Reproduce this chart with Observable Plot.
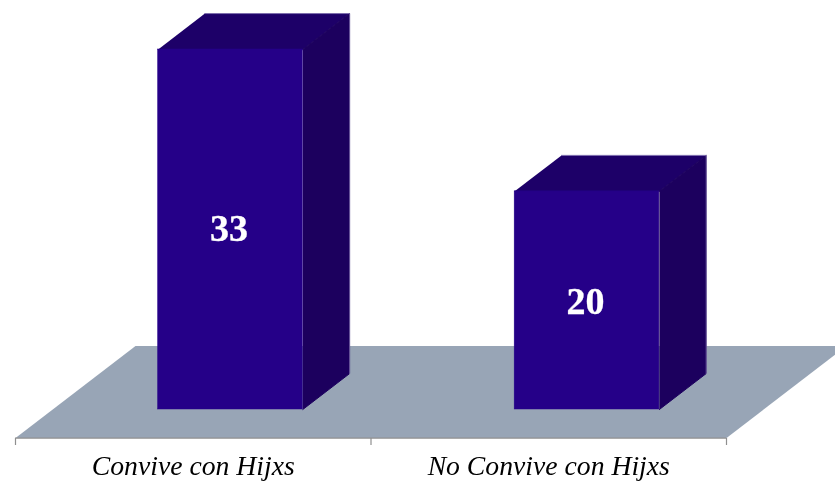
<!DOCTYPE html>
<html>
<head>
<meta charset="utf-8">
<style>
html,body{margin:0;padding:0;background:#fff;overflow:hidden}
svg{display:block;filter:blur(0.45px)}
</style>
<script src="https://cdn.jsdelivr.net/npm/d3@7"></script>
<script src="https://cdn.jsdelivr.net/npm/@observablehq/plot@0.6"></script>
</head>
<body>
<div id="chart"></div>
<script>
const categories = ["Convive con Hijxs", "No Convive con Hijxs"];
const values = [33, 20];
const labelLevels = [16.6, 9.85];
const barCenters = [0.5, 1.503];

// Pseudo-3D layout, in data units
const barWidth = 0.407;
const depthX = 0.3376;   // x units per unit of depth
const depthY = 8.44;     // value units per unit of depth
const frontDepth = 0.31;
const backDepth = 0.70;
const floorBackDepth = 1;

const project = (c, depth, v) => ({x: c + depth * depthX, y: v + (depth - frontDepth) * depthY});

const polygon = (id, pts) => pts.map(([c, d, v]) => ({id, ...project(c, d, v)}));

const floor = polygon("floor", [
  [0, 0, 0], [2, 0, 0], [2, floorBackDepth, 0], [0, floorBackDepth, 0]
]);

const bars = categories.map((category, i) => ({
  category,
  value: values[i],
  c1: barCenters[i] - barWidth / 2,
  c2: barCenters[i] + barWidth / 2,
  mid: barCenters[i]
}));

const tops = bars.flatMap((b, i) => polygon("top" + i, [
  [b.c1, frontDepth, b.value], [b.c2, frontDepth, b.value],
  [b.c2, backDepth, b.value], [b.c1, backDepth, b.value]
]));
const sides = bars.flatMap((b, i) => polygon("side" + i, [
  [b.c2, frontDepth, 0], [b.c2, backDepth, 0],
  [b.c2, backDepth, b.value], [b.c2, frontDepth, b.value]
]));
const outerEdges = bars.flatMap((b, i) => polygon("edge" + i, [
  [b.c1, backDepth, b.value], [b.c2, backDepth, b.value], [b.c2, backDepth, 0]
]));
const fronts = bars.map((b, i) => ({
  x1: project(b.c1, frontDepth, 0).x,
  x2: project(b.c2, frontDepth, 0).x,
  y: b.value,
  xm: project(b.mid, frontDepth, 0).x,
  ym: labelLevels[i],
  value: b.value
}));

const floorY = project(0, 0, 0).y;

const chart = Plot.plot({
  width: 835,
  height: 482,
  marginTop: 0, marginRight: 0, marginLeft: 0, marginBottom: 44,
  style: {background: "#fff"},
  x: {type: "linear", domain: [0, 2], range: [15, 726], axis: null},
  y: {type: "linear", domain: [0, 33], range: [409, 49], axis: null},
  marks: [
    Plot.line(floor, {x: "x", y: "y", z: "id", fill: "#98a5b6", stroke: "none", clip: true}),
    Plot.ruleY([floorY], {x1: 0, x2: 2, stroke: "#8f8f8f", strokeWidth: 1.2}),
    Plot.axisX({ticks: [0, 1, 2], tickSize: 7, tickFormat: () => "", stroke: "#8f8f8f", strokeWidth: 1.2}),
    Plot.axisX({
      ticks: categories.map((_, i) => i + 0.5),
      tickSize: 0,
      tickPadding: 17,
      tickFormat: d => categories[Math.floor(d)],
      fontFamily: "Liberation Serif",
      fontStyle: "italic",
      fontSize: 27.7,
      fill: "#000",
      stroke: null
    }),
    Plot.line(tops, {x: "x", y: "y", z: "id", fill: "#1d0068", stroke: "#1d0068", strokeWidth: 0.6}),
    Plot.line(sides, {x: "x", y: "y", z: "id", fill: "#1c005e", stroke: "#1c005e", strokeWidth: 1}),
    Plot.line(outerEdges, {x: "x", y: "y", z: "id", stroke: "#b8aed8", strokeWidth: 0.5}),
    Plot.rect(fronts, {x1: "x1", x2: "x2", y1: 0, y2: "y", fill: "#250088", stroke: "#250088", strokeWidth: 0.5}),
    Plot.text(fronts, {
      x: "xm", y: "ym", text: d => String(d.value), dx: -1.5,
      fill: "#fff", stroke: "#fff", strokeWidth: 0.3, fontFamily: "Liberation Serif", fontWeight: "bold", fontSize: 38
    })
  ]
});
document.getElementById("chart").appendChild(chart);
</script>
</body>
</html>
